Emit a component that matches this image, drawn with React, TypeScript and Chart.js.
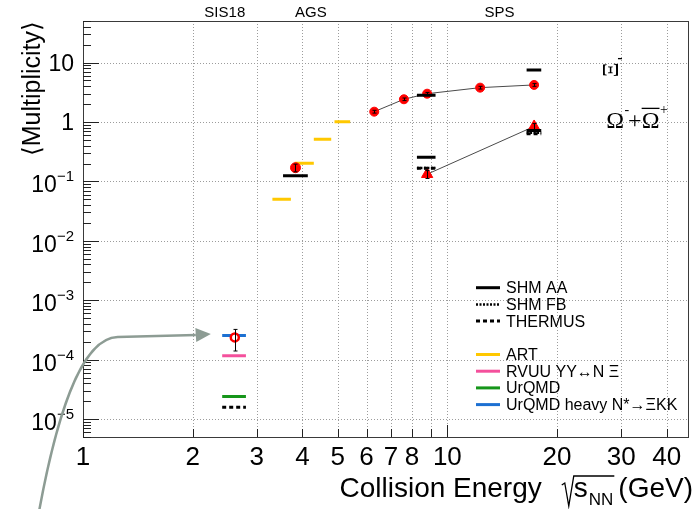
import React, { useEffect, useRef } from 'react';
import { Chart, registerables } from 'chart.js';
Chart.register(...registerables);

// ---------- data ----------
const xiSpsEnergy = [6.3, 7.6, 8.8, 12.3, 17.3];
const xiSpsMult = [1.49, 2.41, 2.99, 3.78, 4.2];
const xiSpsErr = [0.08, 0.12, 0.15, 0.2, 0.22];

const xiAgsEnergy = [3.83];
const xiAgsMult = [0.17];
const xiAgsErr = [0.025];

const omegaSpsEnergy = [8.8, 17.3];
const omegaSpsMult = [0.132, 0.84];
const omegaSpsErr = [0.02, 0.1];

const xiSisEnergy = [2.61];
const xiSisMult = [2.37e-4];
const xiSisErrLow = [0.97e-4];
const xiSisErrHigh = [0.86e-4];

// model predictions: [energy from, energy to, multiplicity]
const shmAA = [[3.54, 4.14, 0.125], [8.25, 9.28, 2.81], [16.5, 18.1, 7.5], [8.25, 9.28, 0.255], [16.5, 18.1, 0.72]];
const shmFB = [[8.25, 9.28, 0.168], [16.5, 18.1, 0.66]];
const thermus = [[2.41, 2.8, 1.58e-5], [8.25, 9.28, 0.166], [16.5, 18.1, 0.635]];
const art = [[3.31, 3.72, 0.05], [3.81, 4.3, 0.2017], [4.3, 4.8, 0.511], [4.9, 5.41, 1.01]];
const rvuu = [[2.41, 2.8, 1.16e-4]];
const urqmd = [[2.41, 2.8, 2.41e-5]];
const urqmdHeavy = [[2.41, 2.8, 2.56e-4]];

// axes
const xMin = 1, xMax = 45.9, yMin = 5e-6, yMax = 50;
const xTickValues = [1, 2, 3, 4, 5, 6, 7, 8, 9, 10, 20, 30, 40];
const xTickLabels = ['1', '2', '3', '4', '5', '6', '7', '8', '', '10', '20', '30', '40'];
const yDecadeExp = [1, 0, -1, -2, -3, -4, -5];
const yTickBase = ['10', '1', '10', '10', '10', '10', '10'];
const yTickSup = ['', '', '\u22121', '\u22122', '\u22123', '\u22124', '\u22125'];

const topLabels = ['SIS18', 'AGS', 'SPS'];
const topLabelEnergy = [2.45, 4.22, 13.9];

// arrow annotation (data coordinates)
const arrowCurve = [{ x: 0.75, y: 2e-7 }, { x: 0.839, y: 9.6e-6 }, { x: 0.981, y: 2.31e-4 }, { x: 1.245, y: 2.4e-4 }];
const arrowLineEnd = { x: 2.04, y: 2.6e-4 };
const arrowTip = { x: 2.243, y: 2.7e-4 };

const xiLabelPos = { x: 28.3, y: 7.5 };
const omegaLabelPos = { x: 27.3, y: 0.8 };

const FONT = '"Liberation Sans", Arial, Helvetica, sans-serif';
const SERIF = '"Liberation Serif", "Times New Roman", serif';
const F = (s: number) => `${s}px ${FONT}`;

const modelSeries: any[] = [
  { label: 'SHM AA', color: '#000000', dash: [], width: 3, segs: shmAA },
  { label: 'SHM FB', color: '#000000', dash: [2, 1.5], width: 2.5, segs: shmFB },
  { label: 'THERMUS', color: '#000000', dash: [4, 3], width: 3, segs: thermus },
  null,
  { label: 'ART', color: '#ffc800', dash: [], width: 3, segs: art },
  { label: 'RVUU YY\u2194N \u039E', color: '#f4509c', dash: [], width: 3, segs: rvuu },
  { label: 'UrQMD', color: '#16961a', dash: [], width: 3, segs: urqmd },
  { label: 'UrQMD heavy N*\u2192\u039EKK', color: '#1c70d2', dash: [], width: 3, segs: urqmdHeavy },
];

const errorSets = [
  { xs: xiSpsEnergy, ys: xiSpsMult, lo: xiSpsErr, hi: xiSpsErr },
  { xs: xiAgsEnergy, ys: xiAgsMult, lo: xiAgsErr, hi: xiAgsErr },
  { xs: omegaSpsEnergy, ys: omegaSpsMult, lo: omegaSpsErr, hi: omegaSpsErr },
  { xs: xiSisEnergy, ys: xiSisMult, lo: xiSisErrLow, hi: xiSisErrHigh },
];

function segData(segs: number[][]) {
  const out: any[] = [];
  for (const [a, b, v] of segs) {
    out.push({ x: a, y: v }, { x: b, y: v }, { x: b, y: null });
  }
  return out;
}
function pts(xs: number[], ys: number[]) {
  return xs.map((x, i) => ({ x, y: ys[i] }));
}

const rootPlugin = {
  id: 'rootStyle',
  beforeDatasetsDraw(chart: any) {
    const { ctx, chartArea: a, scales } = chart;
    const x = scales.x, y = scales.y;
    ctx.save();
    ctx.strokeStyle = '#9c9c9c';
    ctx.lineWidth = 1;
    ctx.setLineDash([1, 2]);
    for (const v of xTickValues) {
      const px = Math.round(x.getPixelForValue(v)) + 0.5;
      ctx.beginPath(); ctx.moveTo(px, a.top); ctx.lineTo(px, a.bottom); ctx.stroke();
    }
    for (const e of yDecadeExp) {
      const py = Math.round(y.getPixelForValue(Math.pow(10, e))) + 0.5;
      ctx.beginPath(); ctx.moveTo(a.left, py); ctx.lineTo(a.right, py); ctx.stroke();
    }
    ctx.restore();
  },
  afterDatasetsDraw(chart: any) {
    const { ctx, scales } = chart;
    const x = scales.x, y = scales.y;
    ctx.save();
    ctx.strokeStyle = '#000';
    ctx.lineWidth = 1;
    for (const s of errorSets) {
      s.xs.forEach((xv: number, i: number) => {
        const px = Math.round(x.getPixelForValue(xv)) + 0.5;
        const p1 = y.getPixelForValue(s.ys[i] + s.hi[i]);
        const p2 = y.getPixelForValue(s.ys[i] - s.lo[i]);
        ctx.beginPath();
        ctx.moveTo(px, p1); ctx.lineTo(px, p2);
        ctx.moveTo(px - 2, p1); ctx.lineTo(px + 2, p1);
        ctx.moveTo(px - 2, p2); ctx.lineTo(px + 2, p2);
        ctx.stroke();
      });
    }
    ctx.restore();
  },
  afterDraw(chart: any) {
    const { ctx, chartArea: a, scales } = chart;
    const x = scales.x, y = scales.y;
    ctx.save();
    // frame
    ctx.strokeStyle = '#3a3a3a';
    ctx.lineWidth = 1;
    ctx.setLineDash([]);
    ctx.strokeRect(Math.round(a.left) + 0.5, Math.round(a.top) + 0.5, Math.round(a.right - a.left) - 1, Math.round(a.bottom - a.top));
    // x ticks
    ctx.strokeStyle = '#222';
    ctx.beginPath();
    for (const v of xTickValues) {
      const px = Math.round(x.getPixelForValue(v)) + 0.5;
      const len = (v === 1 || v === 10) ? 12 : 8;
      ctx.moveTo(px, a.bottom); ctx.lineTo(px, a.bottom - len);
    }
    // y ticks
    for (let e = -6; e <= 1; e++) {
      for (let m = 1; m <= 9; m++) {
        const v = m * Math.pow(10, e);
        if (v < yMin * 0.999 || v > yMax * 1.001) continue;
        const py = Math.round(y.getPixelForValue(v)) + 0.5;
        const len = m === 1 ? 16 : 8;
        ctx.moveTo(a.left, py); ctx.lineTo(a.left + len, py);
      }
    }
    ctx.stroke();
    // x tick labels
    ctx.fillStyle = '#000';
    ctx.font = F(26);
    ctx.textAlign = 'center';
    ctx.textBaseline = 'alphabetic';
    xTickValues.forEach((v, i) => {
      if (!xTickLabels[i]) return;
      ctx.fillText(xTickLabels[i], x.getPixelForValue(v), a.bottom + 28);
    });
    // y tick labels
    const yr = a.left - 9;
    yDecadeExp.forEach((e, i) => {
      const py = y.getPixelForValue(Math.pow(10, e));
      if (!yTickSup[i]) {
        ctx.font = F(23); ctx.textAlign = 'right';
        ctx.fillText(yTickBase[i], yr, py + 8);
      } else {
        ctx.font = F(15);
        const ws = ctx.measureText(yTickSup[i]).width;
        ctx.textAlign = 'left';
        ctx.fillText(yTickSup[i], yr - ws, py);
        ctx.font = F(23); ctx.textAlign = 'right';
        ctx.fillText(yTickBase[i], yr - ws, py + 11);
      }
    });
    // y title
    ctx.save();
    ctx.translate(40, a.top);
    ctx.rotate(-Math.PI / 2);
    ctx.font = F(25);
    ctx.textAlign = 'right';
    ctx.fillText('\u27E8Multiplicity\u27E9', 0, 0);
    ctx.restore();
    // x title
    ctx.font = F(28);
    ctx.textAlign = 'left';
    const t1 = 'Collision Energy';
    const t2 = 's';
    const t4 = '(GeV)';
    const w1 = ctx.measureText(t1).width;
    const w2 = ctx.measureText(t2).width;
    const w4 = ctx.measureText(t4).width;
    ctx.font = F(17);
    const t3 = 'NN';
    const w3 = ctx.measureText(t3).width;
    const total = w1 + 20 + 12 + w2 + 1 + w3 + 5 + w4;
    let cx = 693 - total;
    const base = 497;
    ctx.font = F(28);
    ctx.fillText(t1, cx, base);
    cx += w1 + 20;
    // sqrt sign
    ctx.strokeStyle = '#000';
    ctx.lineWidth = 1.3;
    ctx.beginPath();
    ctx.moveTo(cx, base - 12);
    ctx.lineTo(cx + 3, base - 14);
    ctx.lineTo(cx + 7, base + 9);
    ctx.lineTo(cx + 12, base - 21);
    ctx.lineTo(cx + 12 + w2 + 1 + w3 + 1, base - 21);
    ctx.stroke();
    cx += 12;
    ctx.fillText(t2, cx, base);
    cx += w2 + 1;
    ctx.font = F(17);
    ctx.fillText(t3, cx, base + 8);
    cx += w3 + 5;
    ctx.font = F(28);
    ctx.fillText(t4, cx, base);
    // top labels
    ctx.font = F(15);
    ctx.textAlign = 'center';
    topLabels.forEach((t, i) => ctx.fillText(t, x.getPixelForValue(topLabelEnergy[i]), 17));
    // Xi label (rotated)
    const xpx = x.getPixelForValue(xiLabelPos.x), xpy = y.getPixelForValue(xiLabelPos.y);
    ctx.save();
    ctx.translate(xpx, xpy);
    ctx.rotate(-Math.PI / 2);
    ctx.font = `23px ${SERIF}`;
    ctx.textAlign = 'center';
    ctx.textBaseline = 'middle';
    ctx.fillText('\u039E', 0, 0);
    ctx.restore();
    ctx.fillRect(xpx + 6, xpy - 12, 4, 1.3);
    // Omega label
    let ox = x.getPixelForValue(omegaLabelPos.x);
    const oy = y.getPixelForValue(omegaLabelPos.y);
    ctx.textAlign = 'left';
    ctx.textBaseline = 'alphabetic';
    ctx.font = `24px ${SERIF}`;
    ctx.fillText('\u03A9', ox, oy);
    const wO = ctx.measureText('\u03A9').width;
    ox += wO;
    ctx.font = `14px ${SERIF}`;
    ctx.fillText('-', ox + 0.5, oy - 14);
    ox += 4;
    ctx.font = `24px ${SERIF}`;
    ctx.fillText('+', ox, oy);
    ox += ctx.measureText('+').width;
    ctx.fillText('\u03A9', ox, oy);
    ctx.fillRect(ox, oy - 20, wO, 1.3);
    ox += wO;
    ctx.font = `14px ${SERIF}`;
    ctx.fillText('+', ox + 0.5, oy - 14);
    // legend
    const lx0 = 476, lx1 = 500, tx = 506, ly0 = 287.7, step = 16.7;
    modelSeries.forEach((s, i) => {
      if (!s) return;
      const ly = ly0 + i * step;
      ctx.save();
      ctx.strokeStyle = s.color;
      ctx.lineWidth = s.width;
      ctx.setLineDash(s.dash);
      ctx.lineCap = 'butt';
      ctx.beginPath(); ctx.moveTo(lx0, ly); ctx.lineTo(lx1, ly); ctx.stroke();
      ctx.restore();
      ctx.fillStyle = '#000';
      ctx.font = F(16);
      ctx.textAlign = 'left';
      ctx.textBaseline = 'middle';
      ctx.fillText(s.label, tx, ly + 1);
    });
    // arrow
    const P = (p: any) => [x.getPixelForValue(p.x), y.getPixelForValue(p.y)];
    const [p0, c1, c2, p3] = arrowCurve.map(P);
    const pe = P(arrowLineEnd), pt = P(arrowTip);
    ctx.strokeStyle = '#8d9c94';
    ctx.fillStyle = '#8d9c94';
    ctx.lineWidth = 2.5;
    ctx.setLineDash([]);
    ctx.beginPath();
    ctx.moveTo(p0[0], p0[1]);
    ctx.bezierCurveTo(c1[0], c1[1], c2[0], c2[1], p3[0], p3[1]);
    ctx.lineTo(pe[0], pe[1]);
    ctx.stroke();
    const ang = Math.atan2(pt[1] - pe[1], pt[0] - pe[0]);
    const hw = 7;
    ctx.beginPath();
    ctx.moveTo(pt[0], pt[1]);
    ctx.lineTo(pe[0] - Math.sin(ang) * hw, pe[1] + Math.cos(ang) * hw);
    ctx.lineTo(pe[0] + Math.sin(ang) * hw, pe[1] - Math.cos(ang) * hw);
    ctx.closePath();
    ctx.fill();
    ctx.restore();
  },
};

export default function App() {
  const ref = useRef<HTMLCanvasElement>(null);
  useEffect(() => {
    const canvas = ref.current!;
    const modelDatasets = modelSeries.filter(Boolean).map((s: any) => ({
      label: s.label,
      data: segData(s.segs),
      borderColor: s.color,
      backgroundColor: s.color,
      borderWidth: s.width,
      borderDash: s.dash,
      borderCapStyle: 'butt',
      pointRadius: 0,
      spanGaps: false,
      fill: false,
      tension: 0,
      order: 1,
    }));
    const chart = new Chart(canvas, {
      type: 'line',
      data: {
        datasets: [
          ...modelDatasets,
          {
            label: 'Xi SPS', data: pts(xiSpsEnergy, xiSpsMult), borderColor: '#4a4a4a', borderWidth: 1,
            pointRadius: 4.5, pointBackgroundColor: '#ff0000', pointBorderColor: '#ff0000', pointBorderWidth: 1, order: 2,
          },
          {
            label: 'Omega SPS', data: pts(omegaSpsEnergy, omegaSpsMult), borderColor: '#4a4a4a', borderWidth: 1,
            pointStyle: 'triangle', pointRadius: 6.5, pointBackgroundColor: '#ff0000', pointBorderColor: '#ff0000', pointBorderWidth: 1, order: 2,
          },
          {
            label: 'Xi AGS', data: pts(xiAgsEnergy, xiAgsMult), showLine: false,
            pointRadius: 5, pointBackgroundColor: '#ff0000', pointBorderColor: '#ff0000', pointBorderWidth: 1, order: 0,
          },
          {
            label: 'Xi SIS18', data: pts(xiSisEnergy, xiSisMult), showLine: false,
            pointRadius: 4, pointBackgroundColor: '#ffffff', pointBorderColor: '#ff0000', pointBorderWidth: 2.5, order: 0,
          },
        ] as any,
      },
      options: {
        animation: false,
        responsive: true,
        maintainAspectRatio: false,
        events: [],
        layout: { padding: { top: 21, right: 2, left: 0, bottom: 0 } },
        plugins: { legend: { display: false }, tooltip: { enabled: false }, title: { display: false } },
        scales: {
          x: {
            type: 'logarithmic', min: xMin, max: xMax,
            grid: { display: false }, border: { display: false }, ticks: { display: false },
            afterFit: (s: any) => { s.height = 72; },
          },
          y: {
            type: 'logarithmic', min: yMin, max: yMax,
            grid: { display: false }, border: { display: false }, ticks: { display: false },
            afterFit: (s: any) => { s.width = 83; },
          },
        },
      } as any,
      plugins: [rootPlugin],
    });
    return () => chart.destroy();
  }, []);
  return (
    <div style={{ position: 'absolute', left: 0, top: 0, width: 696, height: 509, background: '#fff' }}>
      <canvas ref={ref} />
    </div>
  );
}
